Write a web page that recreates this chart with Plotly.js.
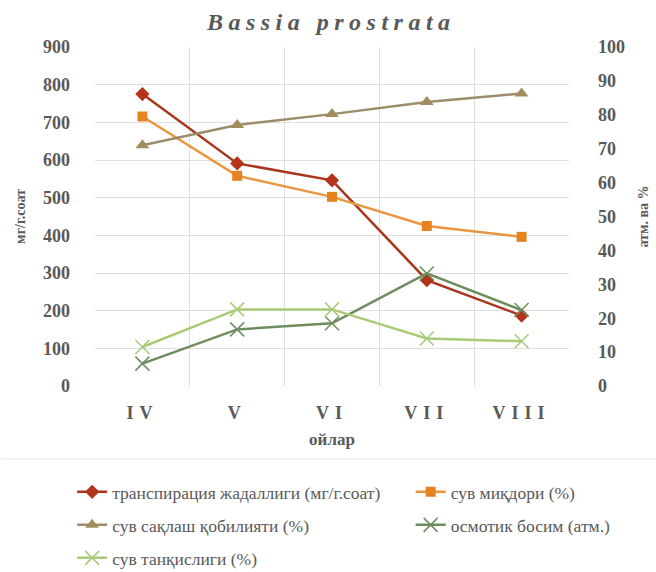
<!DOCTYPE html>
<html>
<head>
<meta charset="utf-8">
<script src="https://cdn.plot.ly/plotly-3.0.1.min.js"></script>
<style>
  html, body { margin: 0; padding: 0; background: #fff; }
  #chart { width: 656px; height: 572px; }
  .gtitle { letter-spacing: 5.5px; }
  .xtick text { letter-spacing: 6px; }
</style>
</head>
<body>
<div id="chart"></div>
<script>
const months = ["IV", "V", "VI", "VII", "VIII"];
const transpiration = [775, 591, 546, 281, 187];
const waterContent = [79.5, 62, 55.8, 47.2, 44];
const waterRetention = [71, 77, 80.2, 83.8, 86.3];
const osmoticPressure = [6.6, 16.7, 18.5, 33.2, 22.4];
const waterDeficit = [11.5, 22.6, 22.6, 14, 13.2];

const names = [
  "транспирация жадаллиги (мг/г.соат)",
  "сув миқдори (%)",
  "сув сақлаш қобилияти (%)",
  "осмотик босим (атм.)",
  "сув танқислиги (%)"
];

const traces = [
  {x: months, y: transpiration, name: names[0], yaxis: "y", legend: "legend",
   mode: "lines+markers", line: {color: "#A8361D", width: 2.5},
   marker: {symbol: "diamond", size: 11, color: "#B3341A"}},
  {x: months, y: waterContent, name: names[1], yaxis: "y2", legend: "legend2",
   mode: "lines+markers", line: {color: "#EA963F", width: 2.5},
   marker: {symbol: "square", size: 10, color: "#E5841F"}},
  {x: months, y: waterRetention, name: names[2], yaxis: "y2", legend: "legend3",
   mode: "lines+markers", line: {color: "#9C8C6A", width: 2.5},
   marker: {symbol: "triangle-up", size: 12, color: "#A08D5C"}},
  {x: months, y: osmoticPressure, name: names[3], yaxis: "y2", legend: "legend4",
   mode: "lines+markers", line: {color: "#6E8D5E", width: 2.5},
   marker: {symbol: "x-thin-open", size: 14, line: {color: "#6E8D5E", width: 1.5}}},
  {x: months, y: waterDeficit, name: names[4], yaxis: "y2", legend: "legend5",
   mode: "lines+markers", line: {color: "#A9CB76", width: 2.5},
   marker: {symbol: "x-thin-open", size: 14, line: {color: "#A9CB76", width: 1.5}}}
];

const SERIF = "'Liberation Serif', 'DejaVu Serif', serif";
const tickFont = {family: SERIF, size: 18, color: "#595959", weight: "bold"};
const legendFont = {family: SERIF, size: 17.5, color: "#595959"};
function leg(x, y) {
  return {orientation: "h", xref: "container", yref: "container", x: x, y: y,
    xanchor: "left", yanchor: "middle", font: legendFont, bgcolor: "rgba(0,0,0,0)",
    itemwidth: 30, borderwidth: 0};
}

const layout = {
  width: 656, height: 572,
  font: {family: SERIF, color: "#595959"},
  margin: {l: 95, r: 87, t: 47, b: 186},
  paper_bgcolor: "#ffffff", plot_bgcolor: "#ffffff",
  title: {text: "<b><i>Bassia prostrata</i></b>", x: 0.505, xanchor: "center", y: 0.962, yanchor: "middle",
          font: {family: SERIF, size: 24, color: "#595959"}},
  xaxis: {type: "category", range: [-0.5, 4.5], tickson: "boundaries", showgrid: true,
          gridcolor: "#DEDEDE", gridwidth: 1, ticks: "", zeroline: false, showline: false,
          tickfont: tickFont, ticklabelstandoff: 14,
          title: {text: "<b>ойлар</b>", standoff: 11, font: {family: SERIF, size: 17, color: "#595959"}}},
  yaxis: {range: [0, 900], dtick: 100, showgrid: true, gridcolor: "#DEDEDE", gridwidth: 1,
          zeroline: false, showline: false, ticks: "", tickfont: tickFont, ticklabelstandoff: 24,
          title: {text: "<b>мг/г.соат</b>", standoff: 14, font: {family: SERIF, size: 14, color: "#595959"}}},
  yaxis2: {range: [0, 100], dtick: 10, overlaying: "y", side: "right", showgrid: false,
           zeroline: false, showline: false, ticks: "", tickfont: tickFont, ticklabelstandoff: 28,
           title: {text: "<b>атм. ва %</b>", standoff: 14, font: {family: SERIF, size: 14, color: "#595959"}}},
  legend: leg(0.110, 0.1399),
  legend2: leg(0.626, 0.1399),
  legend3: leg(0.110, 0.0822),
  legend4: leg(0.626, 0.0822),
  legend5: leg(0.110, 0.0245),
  showlegend: true,
  shapes: [{type: "line", xref: "paper", yref: "paper", x0: -0.2, x1: 1.2, y0: -0.215, y1: -0.215,
            line: {color: "#E6E6E6", width: 1}}]
};

Plotly.newPlot("chart", traces, layout, {displayModeBar: false, staticPlot: true});
</script>
</body>
</html>
